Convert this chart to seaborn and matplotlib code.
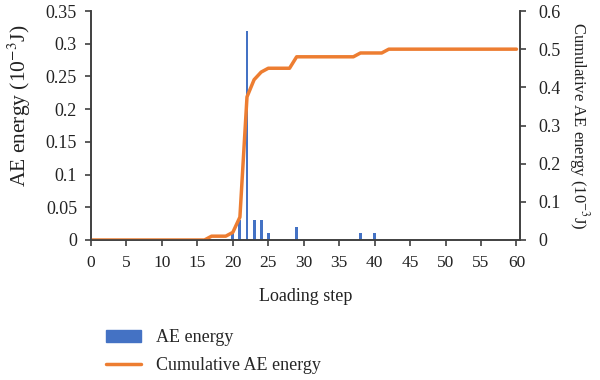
import numpy as np
import pandas as pd
import matplotlib
matplotlib.use("Agg")
import matplotlib.pyplot as plt
import seaborn as sb
from matplotlib.patches import Patch
from matplotlib.lines import Line2D

# AE energy per loading step (10^-3 J), only non-zero steps
bar_steps = [20, 21, 22, 23, 24, 25, 29, 38, 40]
bar_energy = [0.01, 0.03, 0.32, 0.03, 0.03, 0.01, 0.02, 0.01, 0.01]

# cumulative AE energy (10^-3 J) for steps 0..60
steps = list(range(0, 61))
cum_energy = ([0.0] * 17 +                      # 0-16
              [0.01, 0.01, 0.01,                # 17-19
               0.02, 0.06, 0.375, 0.42, 0.44,   # 20-24
               0.45, 0.45, 0.45, 0.45,          # 25-28
               0.48, 0.48, 0.48, 0.48, 0.48,    # 29-33
               0.48, 0.48, 0.48, 0.48,          # 34-37
               0.49, 0.49, 0.49, 0.49] +        # 38-41
              [0.5] * 19)                       # 42-60

blue = "#4472C4"
orange = "#ED7D31"
txt = "#222222"

sb.set_style("white")
plt.rcParams["font.family"] = ["Liberation Serif", "DejaVu Serif"]
plt.rcParams["mathtext.fontset"] = "stix"

fig = plt.figure(figsize=(6, 3.8), dpi=100)
ax = fig.add_axes([91 / 600, 1 - 240 / 380, (520 - 91) / 600, (240 - 11) / 380])

ax.bar(bar_steps, bar_energy, width=0.4, color=blue, linewidth=0, zorder=2)
ax.set_xlim(0, 60.5)
ax.set_ylim(0, 0.35)
ax.set_xticks(range(0, 61, 5))
ax.set_yticks(np.arange(0, 0.351, 0.05))
ax.set_yticklabels(["0", "0.05", "0.1", "0.15", "0.2", "0.25", "0.3", "0.35"])

ax2 = ax.twinx()
df = pd.DataFrame({"step": steps, "cum": cum_energy})
sb.lineplot(data=df, x="step", y="cum", ax=ax2, color=orange, linewidth=2.5)
ax2.set_ylim(0, 0.6)
ax2.set_yticks(np.arange(0, 0.61, 0.1))
ax2.set_yticklabels(["0", "0.1", "0.2", "0.3", "0.4", "0.5", "0.6"])

spine_col = "#404040"
for a in (ax, ax2):
    a.spines["top"].set_visible(False)
    for s in ("left", "right", "bottom"):
        a.spines[s].set_color(spine_col)
        a.spines[s].set_linewidth(1.2)
    a.tick_params(direction="out", length=4, width=1.2, color=spine_col,
                  labelcolor=txt)
ax.tick_params(axis="x", labelsize=12.5, pad=7, bottom=True)
ax.tick_params(axis="y", labelsize=13, pad=6, left=True)
ax2.tick_params(axis="y", labelsize=13, pad=9, right=True)

ax.set_xlabel("Loading step", fontsize=13, labelpad=12, color=txt)
ax.set_ylabel("AE energy (10$^{-3}$J)", fontsize=15.5, color=txt)
ax.yaxis.set_label_coords(-0.135, 0.585)
ax2.set_ylabel("Cumulative AE energy (10$^{-3}$J)", fontsize=12, rotation=270,
               labelpad=22, color=txt)

handles = [Patch(facecolor=blue, edgecolor=blue),
           Line2D([0], [0], color=orange, linewidth=2.5)]
fig.legend(handles, ["AE energy", "Cumulative AE energy"], loc="upper left",
           bbox_to_anchor=(90 / 600, 1 - 313 / 380), frameon=False, fontsize=13,
           handlelength=1.9, handletextpad=0.85, labelspacing=0.6)

fig.savefig("out.png", dpi=100)
